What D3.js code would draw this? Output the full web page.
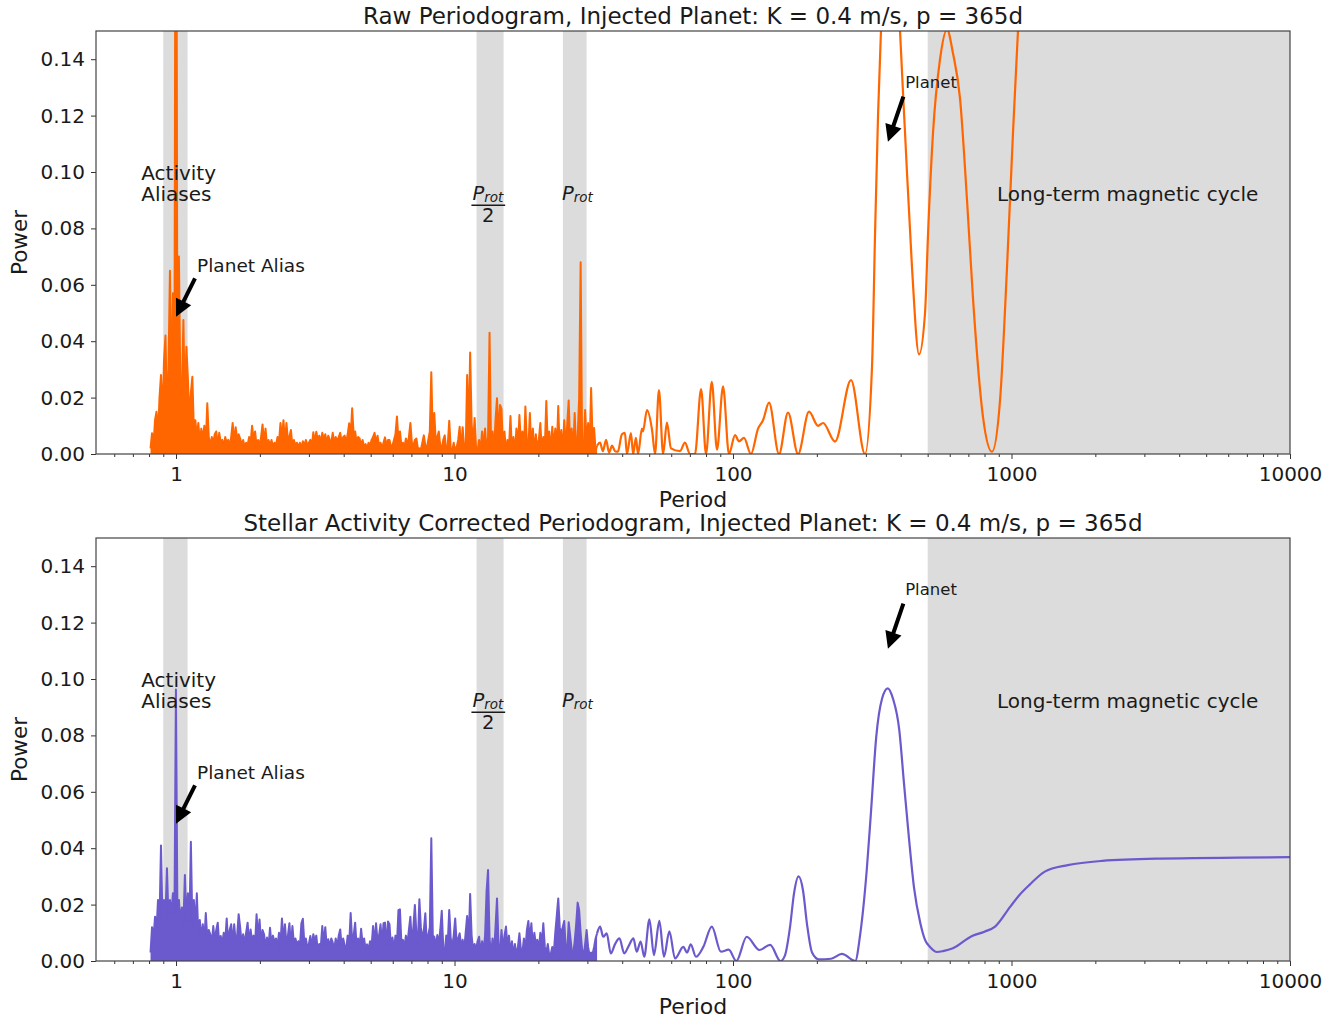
<!DOCTYPE html>
<html>
<head>
<meta charset="utf-8">
<script src="https://cdn.jsdelivr.net/npm/d3@7"></script>
<style>
body { margin: 0; background: #fff; }
svg text { font-family: "DejaVu Sans", sans-serif; fill: #1a1a1a; }
</style>
</head>
<body>
<script>
// dense part of each periodogram, sampled on a log-spaced period grid
var noiseStart = 0.81, noiseEnd = 32.5;

var rawNoise = [
  0.002,0.0074,0.003,0.012,0.015,0.006,0.02,0.028,0.012,0.033,0.042,0.015,0.03,0.065,0.018,0.057,0.022,0.30,0.024,0.070,
  0.022,0.02,0.0475,0.016,0.038,0.027,0.012,0.0216,0.0274,0.009,0.012,0.006,0.011,0.004,0.009,0.005,0.01,0.004,0.018,0.006,
  0.003,0.006,0.004,0.007,0.008,0.003,0.0075,0.004,0.005,0.003,0.006,0.004,0.005,0.003,0.006,0.011,0.004,0.0095,0.005,0.007,
  0.0055,0.003,0.005,0.0025,0.004,0.003,0.006,0.004,0.010,0.005,0.008,0.003,0.005,0.003,0.006,0.0105,0.004,0.009,0.003,0.005,
  0.003,0.005,0.0025,0.004,0.003,0.006,0.004,0.011,0.005,0.012,0.004,0.011,0.005,0.006,0.0085,0.003,0.005,0.003,0.004,0.0025,
  0.004,0.002,0.0045,0.003,0.005,0.003,0.004,0.005,0.003,0.0077,0.004,0.0079,0.005,0.0065,0.004,0.0075,0.005,0.007,0.004,0.0065,
  0.005,0.004,0.0075,0.004,0.006,0.0045,0.006,0.0075,0.004,0.006,0.0065,0.004,0.007,0.0109,0.006,0.0162,0.007,0.008,0.004,0.006,
  0.0055,0.003,0.005,0.0025,0.0035,0.002,0.004,0.003,0.005,0.006,0.0075,0.004,0.0065,0.003,0.004,0.002,0.004,0.0059,0.003,0.005,
  0.005,0.0025,0.003,0.005,0.007,0.0133,0.005,0.008,0.003,0.004,0.0025,0.0055,0.003,0.006,0.011,0.004,0.003,0.005,0.0055,0.002,
  0.002,0.0015,0.004,0.0066,0.003,0.002,0.005,0.008,0.029,0.006,0.0145,0.004,0.006,0.008,0.003,0.002,0.005,0.0066,0.001,0.003,
  0.0118,0.002,0.001,0.004,0.001,0.0025,0.005,0.0097,0.001,0.0095,0.002,0.0005,0.028,0.006,0.036,0.011,0.003,0.0128,0.002,0.001,
  0.005,0.001,0.008,0.002,0.009,0.001,0.006,0.043,0.003,0.008,0.001,0.012,0.0198,0.006,0.0174,0.016,0.002,0.008,0.0005,0.005,
  0.002,0.0135,0.001,0.006,0.0005,0.009,0.002,0.0138,0.003,0.008,0.001,0.0168,0.004,0.002,0.0145,0.001,0.009,0.0005,0.007,0.002,
  0.005,0.011,0.001,0.006,0.002,0.0188,0.003,0.008,0.0005,0.0097,0.002,0.009,0.001,0.017,0.001,0.0085,0.0005,0.012,0.002,0.0105,
  0.019,0.002,0.009,0.0005,0.0145,0.001,0.006,0.02,0.068,0.002,0.0005,0.0156,0.004,0.011,0.001,0.0234,0.005,0.0092,0.001,0.003
];

var corrNoise = [
  0.003,0.012,0.008,0.0157,0.011,0.0216,0.014,0.041,0.015,0.0216,0.016,0.0329,0.015,0.0216,0.017,0.024,0.016,0.0963,0.017,0.0216,
  0.014,0.019,0.013,0.0305,0.014,0.024,0.012,0.0423,0.013,0.0216,0.012,0.024,0.009,0.0145,0.008,0.013,0.007,0.017,0.008,0.011,
  0.0095,0.006,0.0124,0.007,0.011,0.0136,0.006,0.0089,0.006,0.01,0.007,0.0151,0.006,0.011,0.013,0.006,0.013,0.007,0.009,0.0166,
  0.012,0.006,0.0095,0.006,0.01,0.0136,0.006,0.0112,0.007,0.009,0.006,0.0166,0.008,0.0147,0.006,0.011,0.0095,0.005,0.0083,0.005,
  0.0118,0.006,0.009,0.0065,0.008,0.005,0.01,0.006,0.0151,0.007,0.013,0.006,0.009,0.0134,0.005,0.0124,0.006,0.008,0.0059,0.007,
  0.005,0.0134,0.015,0.006,0.008,0.0047,0.006,0.0089,0.005,0.0095,0.007,0.009,0.0035,0.006,0.005,0.0124,0.006,0.012,0.005,0.0077,
  0.005,0.008,0.0065,0.004,0.008,0.005,0.009,0.0112,0.005,0.008,0.0053,0.004,0.009,0.006,0.017,0.007,0.009,0.0136,0.005,0.008,
  0.005,0.0114,0.006,0.008,0.004,0.0059,0.004,0.007,0.005,0.0124,0.006,0.0134,0.007,0.009,0.013,0.006,0.0134,0.0136,0.005,0.014,
  0.013,0.005,0.0083,0.004,0.009,0.006,0.018,0.0183,0.006,0.0075,0.005,0.009,0.006,0.011,0.0157,0.006,0.012,0.0199,0.0098,0.006,
  0.0219,0.012,0.0075,0.011,0.0169,0.006,0.0092,0.012,0.0435,0.009,0.0086,0.005,0.0092,0.006,0.011,0.0178,0.005,0.0027,0.009,0.006,
  0.0181,0.008,0.0051,0.009,0.0151,0.006,0.008,0.0098,0.005,0.0075,0.004,0.01,0.016,0.006,0.0238,0.009,0.0039,0.006,0.004,0.007,
  0.0086,0.003,0.007,0.0035,0.009,0.0246,0.0323,0.008,0.002,0.008,0.003,0.012,0.0222,0.006,0.003,0.011,0.004,0.009,0.0122,0.005,
  0.009,0.003,0.007,0.002,0.006,0.002,0.005,0.0098,0.004,0.003,0.008,0.004,0.011,0.0142,0.007,0.0134,0.005,0.01,0.006,0.0075,
  0.004,0.01,0.006,0.0134,0.005,0.003,0.006,0.002,0.0025,0.005,0.0025,0.01,0.016,0.0222,0.012,0.0098,0.012,0.0142,0.005,0.003,
  0.0137,0.009,0.004,0.0025,0.007,0.013,0.0207,0.018,0.01,0.004,0.002,0.006,0.011,0.005,0.002,0.003,0.0025,0.005,0.008,0.0098
];

// smooth long-period part
var rawPeriod = [33.3,34.1,35.0,35.9,36.8,37.7,38.6,39.9,40.9,41.6,43.0,43.8,44.8,45.6,47.1,47.5,49.1,51.2,52.5,54.2,
  56.1,57.9,59.9,64.5,67.2,70.1,73.0,76.8,80.0,83.9,87.6,92.1,96.7,101.7,105.1,109.5,116.0,123.0,128.2,134.7,
  146.3,157.6,171.2,187.5,202.0,210.6,232.4,265.3,297.8,315.6,323.6,331.7,342.8,366.3,397.8,414.6,439.3,465.5,489.2,501.5,
  522.7,553.8,586.8,616.6,653.4,692.3,727.5,790.3,851.1,909.5,963.4,1012.5,1055,1118,1266,2079,4752,10000];
var rawPower = [0.004,0.001,0.005,0.0005,0.003,0.001,0.0008,0.007,0.0075,0.0,0.0074,0.0,0.0057,0.0,0.009,0.008,0.0156,0.0085,0.0,0.0227,
  0.0,0.0111,0.002,0.001,0.004,0.0,0.0,0.023,0.0,0.0256,0.0015,0.024,0.0,0.0067,0.0045,0.0057,0.0,0.009,0.012,0.0182,
  0.0,0.0147,0.0,0.015,0.01,0.011,0.0044,0.0262,0.0,0.031,0.078,0.12,0.16,0.25,0.15,0.114,0.066,0.0353,0.05,0.078,
  0.114,0.14,0.1505,0.142,0.126,0.09,0.055,0.013,0.0008,0.019,0.066,0.114,0.15,0.2,0.27,0.34,0.37,0.38];

var corrPeriod = [33.3,34.2,35.2,36.4,37.7,39.1,40.7,42.1,43.9,45.1,46.6,48.0,50.1,52.0,54.4,56.5,59.1,61.9,66.3,68.4,
  70.5,73.6,78.3,83.9,90.5,96.5,102.8,112.0,124.4,135.9,148.1,153.7,160.2,165.6,171.9,178.4,184.4,192.2,203.3,225,
  245.9,274.7,285.8,302.0,313,326.8,342.8,359.4,375.4,395.3,411.1,427.9,446.6,470.6,489.2,509.8,540.2,567.6,616.0,721.5,
  800,872.9,990.2,1070,1160,1317,1593,2118,3409,10000];
var corrPower = [0.0122,0.0086,0.0098,0.0027,0.006,0.008,0.0027,0.0051,0.008,0.0033,0.0069,0.0015,0.0148,0.0021,0.0142,0.0015,0.0105,0.0009,0.005,0.003,
  0.0059,0.0015,0.0051,0.0122,0.0033,0.004,0.0,0.0086,0.0039,0.0057,0.0,0.002,0.012,0.024,0.030,0.025,0.013,0.003,0.0006,0.0008,
  0.0025,0.0,0.009,0.032,0.053,0.0795,0.093,0.0967,0.093,0.082,0.063,0.044,0.026,0.0134,0.0075,0.005,0.0032,0.0035,0.0045,0.0089,
  0.0104,0.0122,0.0193,0.0235,0.027,0.0317,0.034,0.0355,0.0363,0.0368];

var bands = [[0.9, 1.1], [12, 15], [24.5, 29.8], [500, 10000]];
var xTicks = [1, 10, 100, 1000, 10000];
var xMinor = [0.6,0.7,0.8,0.9,2,3,4,5,6,7,8,9,20,30,40,50,60,70,80,90,200,300,400,500,600,700,800,900,2000,3000,4000,5000,6000,7000,8000,9000];
var yTicks = [0, 0.02, 0.04, 0.06, 0.08, 0.10, 0.12, 0.14];
var titles = ["Raw Periodogram, Injected Planet: K = 0.4 m/s, p = 365d",
              "Stellar Activity Corrected Periodogram, Injected Planet: K = 0.4 m/s, p = 365d"];
var colors = ["#ff6600", "#6a5acd"];

var width = 1341, height = 1021;
var left = 96, right = 1290, panelH = 423;
var panelTops = [31, 538];

var svg = d3.select('body').append('svg')
    .attr('width', width)
    .attr('height', height);

var x = d3.scaleLog().domain([0.516, 10000]).range([left, right]);

var noisePeriod = rawNoise.map(function(d, i){
    return noiseStart * Math.pow(noiseEnd / noiseStart, i / (rawNoise.length - 1));
});

var panels = [
    {noise: rawNoise, period: rawPeriod, power: rawPower},
    {noise: corrNoise, period: corrPeriod, power: corrPower}
];

function arrow(g, x1, y1, x2, y2){
    var dx = x2 - x1, dy = y2 - y1, len = Math.sqrt(dx*dx + dy*dy);
    var ux = dx/len, uy = dy/len, nx = -uy, ny = ux;
    var hl = 17, hw = 8.5, sw = 2;
    var bx = x2 - ux*hl, by = y2 - uy*hl;
    var pts = [
        [x1 + nx*sw, y1 + ny*sw], [bx + nx*sw, by + ny*sw], [bx + nx*hw, by + ny*hw],
        [x2, y2],
        [bx - nx*hw, by - ny*hw], [bx - nx*sw, by - ny*sw], [x1 - nx*sw, y1 - ny*sw]
    ];
    g.append('polygon').attr('points', pts.map(function(p){ return p.join(','); }).join(' '))
        .attr('fill', '#000');
}

panels.forEach(function(p, k){
    var top = panelTops[k];
    var y = d3.scaleLinear().domain([0, 0.15]).range([top + panelH, top]);
    var g = svg.append('g');

    svg.append('clipPath').attr('id', 'clip' + k)
        .append('rect')
        .attr('x', left).attr('y', top)
        .attr('width', right - left).attr('height', panelH);

    g.selectAll('rect.band').data(bands).enter().append('rect')
        .attr('class', 'band')
        .attr('x', function(d){ return x(d[0]); })
        .attr('width', function(d){ return x(d[1]) - x(d[0]); })
        .attr('y', top)
        .attr('height', panelH)
        .attr('fill', '#dcdcdc');

    var dense = p.noise.map(function(v, i){ return [noisePeriod[i], v]; });
    var smooth = [dense[dense.length - 1]].concat(p.period.map(function(v, i){ return [v, p.power[i]]; }));

    var line = d3.line()
        .x(function(d){ return x(d[0]); })
        .y(function(d){ return y(d[1]); });
    var area = d3.area()
        .x(function(d){ return x(d[0]); })
        .y0(y(0))
        .y1(function(d){ return y(d[1]); });
    var curve = d3.line()
        .x(function(d){ return x(d[0]); })
        .y(function(d){ return y(d[1]); })
        .curve(d3.curveMonotoneX);

    // the dense noise is so tightly packed that it reads as a solid fill
    var lines = g.append('g').attr('clip-path', 'url(#clip' + k + ')');
    lines.append('path')
        .attr('d', area(dense))
        .attr('fill', colors[k]);
    lines.append('path')
        .attr('d', line(dense))
        .attr('fill', 'none')
        .attr('stroke', colors[k])
        .attr('stroke-width', 2)
        .attr('stroke-linejoin', 'round');
    lines.append('path')
        .attr('d', curve(smooth))
        .attr('fill', 'none')
        .attr('stroke', colors[k])
        .attr('stroke-width', 2.2);

    // axes
    var yAxis = d3.axisLeft(y).tickValues(yTicks).tickFormat(d3.format('.2f')).tickSize(5).tickPadding(6);
    var xAxis = d3.axisBottom(x).tickValues(xTicks).tickFormat(d3.format('d')).tickSize(5).tickPadding(8);
    var xAxisMinor = d3.axisBottom(x).tickValues(xMinor).tickFormat('').tickSize(3);

    var ya = g.append('g').attr('transform', 'translate(' + left + ',0)').call(yAxis);
    var xa = g.append('g').attr('transform', 'translate(0,' + (top + panelH) + ')').call(xAxis);
    var xm = g.append('g').attr('transform', 'translate(0,' + (top + panelH) + ')').call(xAxisMinor);
    [ya, xa, xm].forEach(function(a){
        a.select('.domain').remove();
        a.selectAll('line').attr('stroke', '#333');
        a.selectAll('text').attr('font-size', 20).attr('font-family', 'DejaVu Sans').attr('fill', '#1a1a1a');
    });

    g.append('rect')
        .attr('x', left).attr('y', top)
        .attr('width', right - left).attr('height', panelH)
        .attr('fill', 'none').attr('stroke', '#444').attr('stroke-width', 1.2);

    g.append('text')
        .attr('x', (left + right)/2).attr('y', top - 7)
        .attr('text-anchor', 'middle').attr('font-size', 23)
        .text(titles[k]);
    g.append('text')
        .attr('x', (left + right)/2).attr('y', top + panelH + 53)
        .attr('text-anchor', 'middle').attr('font-size', 22)
        .text('Period');
    g.append('text')
        .attr('transform', 'translate(27,' + (top + panelH/2) + ') rotate(-90)')
        .attr('text-anchor', 'middle').attr('font-size', 21.5)
        .text('Power');

    // annotations
    g.append('text').attr('x', x(0.75)).attr('y', y(0.0973)).attr('font-size', 20).text('Activity');
    g.append('text').attr('x', x(0.75)).attr('y', y(0.0897)).attr('font-size', 20).text('Aliases');
    g.append('text').attr('x', x(887)).attr('y', y(0.0897)).attr('font-size', 20).text('Long-term magnetic cycle');

    g.append('text').attr('x', x(1.19)).attr('y', y(0.0646)).attr('font-size', 18.5).text('Planet Alias');
    arrow(g, x(1.17), y(0.0623), x(1.0), y(0.0487));
    g.append('text').attr('x', x(415)).attr('y', y(0.1297)).attr('font-size', 16.5).text('Planet');
    arrow(g, x(409), y(0.1267), x(360), y(0.1107));

    // P_rot / 2 and P_rot
    var frac = g.append('text').attr('x', x(11.6)).attr('y', y(0.0902)).attr('font-size', 19.5).attr('font-style', 'italic');
    frac.append('tspan').text('P');
    frac.append('tspan').attr('font-size', 13.5).attr('dy', 2.5).text('rot');
    g.append('line')
        .attr('x1', x(11.5)).attr('x2', x(15.2))
        .attr('y1', y(0.0882)).attr('y2', y(0.0882))
        .attr('stroke', '#1a1a1a').attr('stroke-width', 1.4);
    g.append('text').attr('x', x(13.2)).attr('y', y(0.0822)).attr('text-anchor', 'middle')
        .attr('font-size', 19.5).text('2');
    var prot = g.append('text').attr('x', x(24.3)).attr('y', y(0.0902)).attr('font-size', 19.5).attr('font-style', 'italic');
    prot.append('tspan').text('P');
    prot.append('tspan').attr('font-size', 13.5).attr('dy', 2.5).text('rot');
});
</script>
</body>
</html>
